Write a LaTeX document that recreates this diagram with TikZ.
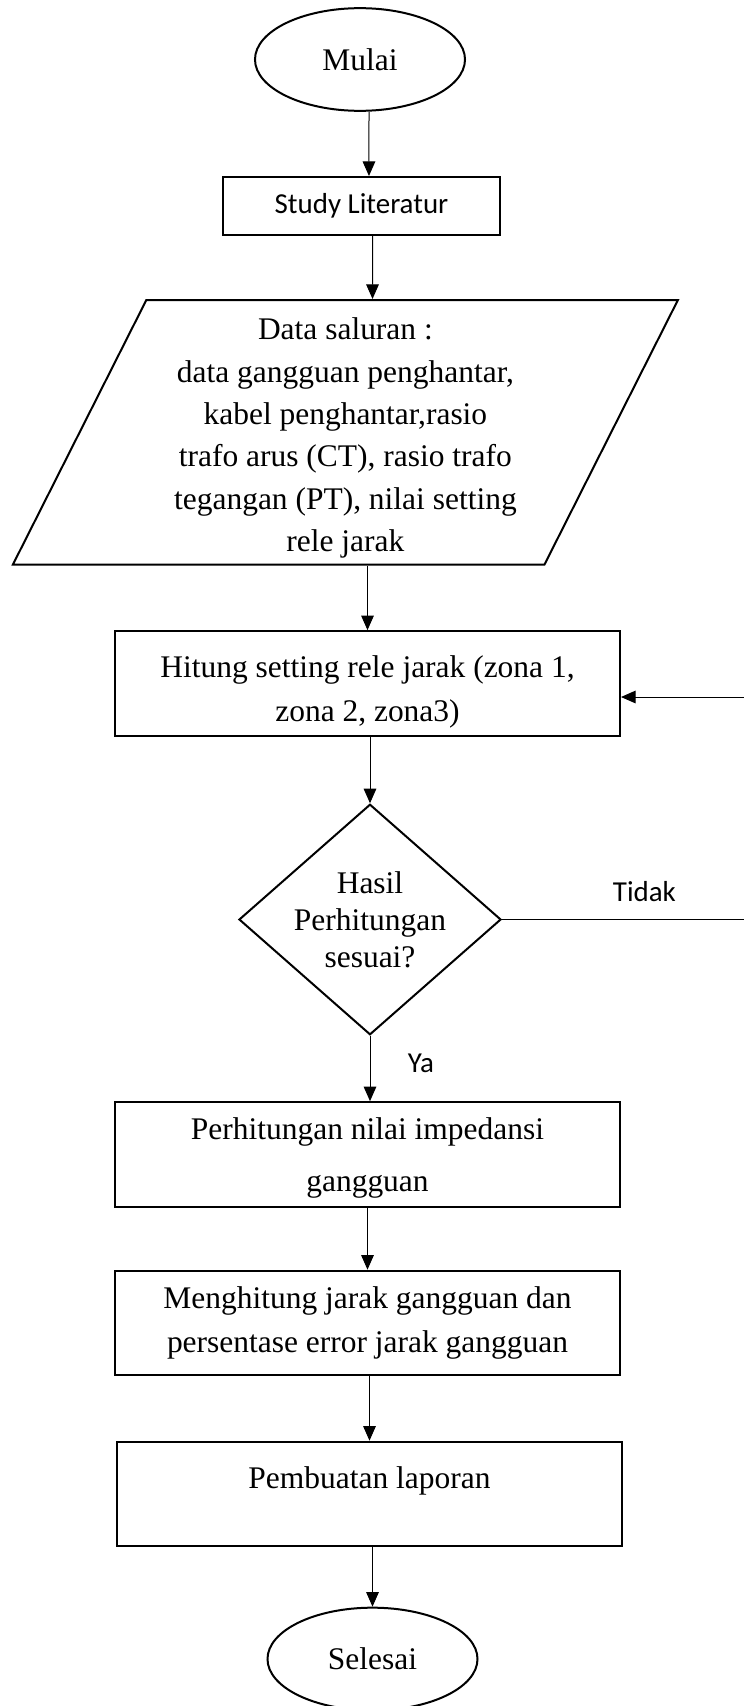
\documentclass[tikz,border=0pt]{standalone}
\usepackage{fontspec}
\setmainfont{Liberation Serif}
\newfontfamily\calibri{Carlito}
\usetikzlibrary{shapes.geometric,arrows.meta}

\newcommand{\flowfont}[1]{\fontsize{23.6pt}{#1}\selectfont}
\newcommand{\notefont}{\calibri\fontsize{21.7pt}{26pt}\selectfont}

\tikzset{
    terminal/.style={ellipse,draw,line width=1.5pt,minimum width=157.5pt,minimum height=77pt,inner sep=0pt,font=\flowfont{28pt}},
    studybox/.style={rectangle,draw,line width=1.5pt,minimum width=207.75pt,minimum height=43.5pt,inner sep=0pt,font=\notefont},
    iobox/.style={trapezium,draw,line width=1.5pt,trapezium left angle=62.1,trapezium right angle=117.9,
        trapezium stretches body=true,minimum width=498.75pt,minimum height=198.4pt,inner sep=0pt,align=center,font=\flowfont{31.8pt}},
    process/.style={rectangle,draw,line width=1.5pt,minimum width=378.75pt,minimum height=78.5pt,inner sep=0pt,align=center,font=\flowfont{33pt}},
    decision/.style={diamond,draw,line width=1.5pt,aspect=1.1365,minimum width=196.5pt,minimum height=172.9pt,inner sep=-3pt,align=center,font=\flowfont{27.75pt}},
    notetext/.style={inner sep=0pt,font=\notefont}
}

\begin{document}
\begin{tikzpicture}[x=0.75pt,y=-0.75pt,line width=0.75pt,>={Triangle[length=11pt,width=9.5pt]}]
    \useasboundingbox (0,0) rectangle (743,1706);
    \path
    % Start
    (360,59.5)     node[terminal] (mulai) {Mulai}

    % Literature study
    (361.5,206)    node[studybox] (study) {Study Literatur}

    % Input data
    (345.4,432.3)  node[iobox,text height=184pt] (data) {Data saluran :\\data gangguan penghantar,\\kabel penghantar,rasio\\trafo arus (CT), rasio trafo\\tegangan (PT), nilai setting\\rele jarak}

    % Relay setting
    (367.5,683.5)  node[process,text height=62.6pt] (hitung) {Hitung setting rele jarak (zona 1,\\zona 2, zona3)}

    % Check
    (370,919.5)    node[decision] (cek) {Hasil\\Perhitungan\\sesuai?}

    % Impedance, distance and report
    (367.5,1154.5) node[process,text height=60pt,font=\flowfont{39pt}] (impedansi) {Perhitungan nilai impedansi\\gangguan}
    (367.5,1323)   node[process] (jarak) {Menghitung jarak gangguan dan\\persentase error jarak gangguan}
    (369.5,1494)   node[process,text depth=24pt] (laporan) {Pembuatan laporan}

    % End
    (372.5,1659)   node[terminal] (selesai) {Selesai};

    % Free ends of the loop back at the right border
    \coordinate (tidakend) at (745,919.5);
    \coordinate (kembali) at (745,697);

    % Link the different parts of the chart
    \draw[->] ([xshift=6.75pt]mulai.south)--([xshift=5.6pt]study.north);
    \draw[->] ([xshift=8.25pt]study.south)--([xshift=20.3pt]data.north);
    \draw[->] (data.south -| hitung.north)--(hitung.north);
    \draw[->] (hitung.south -| cek.north)--(cek.north);
    \draw[->] (cek.south)--(cek.south |- impedansi.north) node[pos=.42,right=28pt,notetext]{Ya};
    \draw[->] (impedansi.south)--(jarak.north);
    \draw[->] (jarak.south -| laporan.north)--(laporan.north);
    \draw[->] (laporan.south -| selesai.north)--(selesai.north);
    \draw (cek.east)--(tidakend) node[pos=.586,yshift=21pt,notetext]{Tidak};
    \draw[->] (kembali)--(kembali -| hitung.east);
\end{tikzpicture}
\end{document}
